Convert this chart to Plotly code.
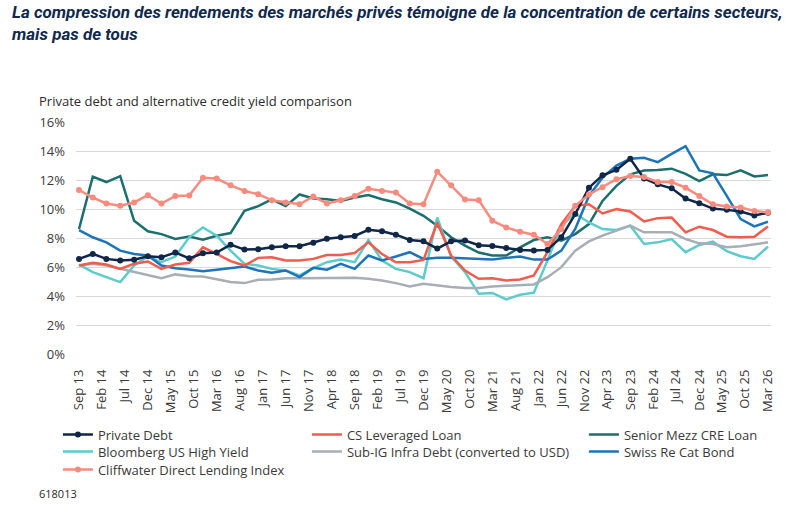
import pandas as pd
import plotly.graph_objects as go

# ---- data (quarterly, Sep 2013 -> Mar 2026) ----
dates = pd.date_range("2013-09-01", periods=51, freq="3MS")
tick_dates = pd.date_range("2013-09-01", "2026-03-01", freq="5MS")

private_debt = [6.56, 6.9, 6.56, 6.45, 6.5, 6.74, 6.67, 7.0, 6.6, 6.95, 7.0,
                7.54, 7.2, 7.22, 7.36, 7.43, 7.43, 7.68, 7.95, 8.05, 8.14,
                8.57, 8.46, 8.23, 7.86, 7.77, 7.27, 7.77, 7.82, 7.5, 7.45,
                7.31, 7.18, 7.13, 7.18, 8.05, 9.65, 11.47, 12.32, 12.7, 13.46,
                12.1, 11.7, 11.43, 10.72, 10.4, 10.03, 9.94, 9.83, 9.55, 9.74]
cs_leveraged_loan = [6.1, 6.29, 6.17, 5.87, 6.22, 6.38, 5.87, 6.17, 6.29, 7.36, 6.9,
                     6.4, 6.1, 6.63, 6.67, 6.45, 6.45, 6.56, 6.83, 6.83, 6.97,
                     7.7, 6.9, 6.33, 6.33, 6.49, 9.07, 6.79, 5.76, 5.19, 5.23,
                     5.07, 5.14, 5.42, 7.02, 8.96, 10.22, 10.33, 9.69, 9.99, 9.83,
                     9.14, 9.37, 9.41, 8.39, 8.78, 8.55, 8.09, 8.05, 8.09, 8.8]
senior_mezz_cre = [8.62, 12.23, 11.86, 12.27, 9.19, 8.46, 8.27, 7.93, 8.11, 7.89, 8.16,
                   8.34, 9.87, 10.2, 10.67, 10.2, 11.0, 10.72, 10.67, 10.56, 10.79,
                   10.97, 10.67, 10.45, 10.03, 9.53, 8.85, 8.05, 7.47, 7.0, 6.79,
                   6.79, 7.36, 7.86, 8.05, 7.82, 8.27, 8.96, 10.56, 11.6, 12.39,
                   12.66, 12.69, 12.78, 12.43, 11.93, 12.39, 12.34, 12.66, 12.25, 12.34]
bloomberg_hy = [6.17, 5.65, 5.3, 4.96, 6.1, 6.72, 6.33, 6.72, 8.05, 8.73, 8.16,
                7.13, 6.22, 6.1, 5.87, 5.76, 5.42, 5.92, 6.33, 6.51, 6.33,
                7.86, 6.45, 5.87, 5.65, 5.23, 9.42, 6.72, 5.65, 4.16, 4.21,
                3.77, 4.09, 4.23, 6.45, 8.85, 9.69, 9.07, 8.62, 8.55, 8.85,
                7.59, 7.7, 7.93, 7.02, 7.52, 7.75, 7.09, 6.74, 6.56, 7.41]
sub_ig_infra = [6.1, 6.22, 6.1, 5.87, 5.65, 5.42, 5.23, 5.49, 5.37, 5.35, 5.14,
                4.96, 4.89, 5.12, 5.14, 5.23, 5.23, 5.23, 5.26, 5.23, 5.26,
                5.19, 5.07, 4.89, 4.66, 4.85, 4.73, 4.62, 4.55, 4.55, 4.66,
                4.69, 4.73, 4.8, 5.3, 5.99, 7.13, 7.77, 8.16, 8.5, 8.85,
                8.39, 8.39, 8.39, 7.93, 7.63, 7.59, 7.36, 7.43, 7.54, 7.7]
swiss_re_cat = [8.55, 8.05, 7.7, 7.13, 6.9, 6.79, 6.1, 5.92, 5.83, 5.71, 5.81,
                5.92, 6.03, 5.76, 5.6, 5.76, 5.3, 5.94, 5.81, 6.22, 5.87,
                6.79, 6.45, 6.72, 7.02, 6.56, 6.63, 6.63, 6.58, 6.51, 6.51,
                6.63, 6.72, 6.51, 6.51, 7.13, 8.62, 10.9, 12.16, 13.0, 13.46,
                13.53, 13.23, 13.8, 14.33, 12.66, 12.46, 10.9, 9.3, 8.8, 9.12]
cliffwater = [11.31, 10.79, 10.38, 10.22, 10.45, 10.95, 10.38, 10.9, 10.93, 12.16, 12.1,
              11.63, 11.25, 11.02, 10.6, 10.45, 10.33, 10.86, 10.38, 10.6, 10.9,
              11.4, 11.25, 11.13, 10.38, 10.33, 12.57, 11.63, 10.65, 10.6, 9.19,
              8.73, 8.43, 8.23, 7.59, 8.6, 10.22, 11.0, 11.5, 12.05, 12.27,
              12.2, 11.86, 11.86, 11.47, 10.9, 10.33, 10.17, 10.1, 9.87, 9.76]

FONT = "Open Sans"
TXT = "#3a3a3a"

# (name, values, color, markers, legend row, legend rank, legend item width) in drawing order
series = [
    ("Senior Mezz CRE Loan", senior_mezz_cre, "#1b6f6d", False, "legend", 3, None),
    ("Bloomberg US High Yield", bloomberg_hy, "#5ccbcc", False, "legend2", 1, 204),
    ("Sub-IG Infra Debt (converted to USD)", sub_ig_infra, "#a7aeb5", False, "legend2", 2, 232),
    ("Swiss Re Cat Bond", swiss_re_cat, "#1d74b9", False, "legend2", 3, None),
    ("CS Leveraged Loan", cs_leveraged_loan, "#f25c4c", False, "legend", 2, 232),
    ("Private Debt", private_debt, "#0f2748", True, "legend", 1, 204),
    ("Cliffwater Direct Lending Index", cliffwater, "#f98b7e", True, "legend3", 1, None),
]

fig = go.Figure()
for name, vals, color, mk, leg, rank, lw in series:
    kw = dict(legendwidth=lw) if lw else {}
    fig.add_trace(go.Scatter(
        x=dates, y=vals, name=name,
        mode="lines+markers" if mk else "lines",
        line=dict(color=color, width=2.5),
        marker=dict(size=6, color=color),
        legend=leg, legendrank=rank, **kw,
    ))

leg_common = dict(x=-0.026, xanchor="left", yanchor="top", orientation="h",
                  font=dict(size=13, color=TXT), bgcolor="rgba(0,0,0,0)")

fig.update_layout(
    width=793, height=508,
    margin=dict(l=76, r=22, t=122, b=154),
    paper_bgcolor="white", plot_bgcolor="white",
    font=dict(family=FONT, size=13, color=TXT),
    xaxis=dict(
        type="date", range=["2013-08-12", "2026-03-21"],
        tickvals=tick_dates, tickformat="%b %y", tickangle=-90,
        showgrid=False, showline=False, zeroline=False, ticks="",
        ticklabelstandoff=12, tickfont=dict(size=13, color=TXT),
    ),
    yaxis=dict(
        range=[0, 16], dtick=2, ticksuffix="%",
        gridcolor="#d9d9d9", gridwidth=1, zeroline=False, showline=False,
        ticklabelstandoff=10, tickfont=dict(size=13, color=TXT),
    ),
    legend=dict(y=-0.283, **leg_common),
    legend2=dict(y=-0.356, **leg_common),
    legend3=dict(y=-0.4336, **leg_common),
    annotations=[
        dict(text="La compression des rendements des marchés privés témoigne de la concentration de certains secteurs,<br>mais pas de tous",
             xref="paper", yref="paper", x=-0.095, y=1.525,
             xanchor="left", yanchor="top", align="left", showarrow=False,
             font=dict(family="Roboto", size=17, color="#10294d",
                       weight="bold", style="italic")),
        dict(text="Private debt and alternative credit yield comparison",
             xref="paper", yref="paper", x=-0.0561, y=1.0905,
             xanchor="left", yanchor="middle", showarrow=False,
             font=dict(size=13, color="#2b2b2b")),
        dict(text="618013", xref="paper", yref="paper", x=-0.0561, y=-0.603,
             xanchor="left", yanchor="middle", showarrow=False,
             font=dict(size=11, color="#2b2b2b")),
    ],
)

fig.write_html("out.html")
